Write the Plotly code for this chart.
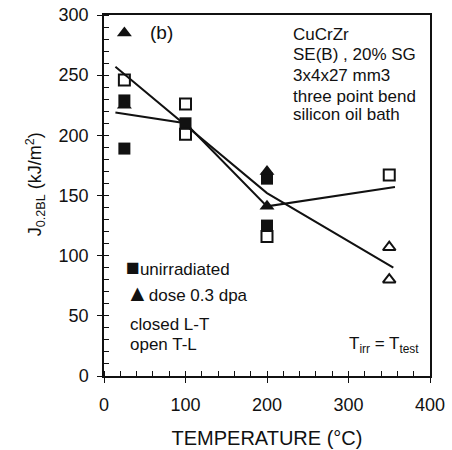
import plotly.graph_objects as go

# Test temperature (°C) and J0.2BL toughness (kJ/m²)
# Unirradiated, L-T orientation (closed squares)
unirr_lt_temp = [25, 25, 100, 200, 200]
unirr_lt_j = [229, 189, 210, 164, 125]
# Unirradiated, T-L orientation (open squares)
unirr_tl_temp = [25, 100, 100, 200, 350]
unirr_tl_j = [246, 226, 201, 116, 167]
# Irradiated 0.3 dpa, L-T orientation (closed triangles)
irr_lt_temp = [25, 25, 200, 200]
irr_lt_j = [285, 225, 170, 141]
# Irradiated 0.3 dpa, T-L orientation (open triangles)
irr_tl_temp = [350, 350]
irr_tl_j = [107, 80]

# Trend lines
trend1_temp = [14, 100, 200, 357]
trend1_j = [219, 210, 141, 157]
trend2_temp = [14, 200, 355]
trend2_j = [257, 152, 90]

x_ticks = [0, 100, 200, 300, 400]
y_ticks = [0, 50, 100, 150, 200, 250, 300]

FONT = "Liberation Sans, Arial, sans-serif"
INK = "#111111"

fig = go.Figure()

for tx, ty in [(trend1_temp, trend1_j), (trend2_temp, trend2_j)]:
    fig.add_trace(go.Scatter(x=tx, y=ty, mode="lines",
                             line=dict(color=INK, width=2), showlegend=False))

fig.add_trace(go.Scatter(x=unirr_lt_temp, y=unirr_lt_j, mode="markers",
                         marker=dict(symbol="square", size=12, color=INK),
                         showlegend=False))
fig.add_trace(go.Scatter(x=irr_lt_temp, y=irr_lt_j, mode="markers",
                         marker=dict(symbol="triangle-up", size=13, color=INK),
                         showlegend=False))
fig.add_trace(go.Scatter(x=unirr_tl_temp, y=unirr_tl_j, mode="markers",
                         marker=dict(symbol="square-open", size=11, color=INK,
                                     line=dict(width=2, color=INK)),
                         showlegend=False))
fig.add_trace(go.Scatter(x=irr_tl_temp, y=irr_tl_j, mode="markers",
                         marker=dict(symbol="triangle-up-open", size=11, color=INK,
                                     line=dict(width=2, color=INK)),
                         showlegend=False))

axis_common = dict(
    showline=True, linecolor=INK, linewidth=1.5, mirror=True,
    showgrid=False, zeroline=False, automargin=False,
    ticks="outside", ticklen=5, tickwidth=1.2, tickcolor=INK,
    tickfont=dict(family=FONT, size=18, color=INK),
)

fig.update_layout(
    width=452, height=450,
    margin=dict(l=104, r=22, t=15, b=74),
    paper_bgcolor="white", plot_bgcolor="white",
    font=dict(family=FONT, color=INK),
    xaxis=dict(range=[0, 400], tickvals=x_ticks, ticklabelstandoff=7,
               minor=dict(dtick=20, ticks="inside", ticklen=5, tickwidth=1, tickcolor=INK),
               title=dict(text="TEMPERATURE (°C)", font=dict(family=FONT, size=20, color=INK),
                          standoff=17),
               **axis_common),
    yaxis=dict(range=[0, 300], tickvals=y_ticks, ticklabelstandoff=5,
               minor=dict(dtick=10, ticks="inside", ticklen=5, tickwidth=1, tickcolor=INK),
               **axis_common),
    # inner halves of the major ticks
    xaxis2=dict(range=[0, 400], tickvals=x_ticks, overlaying="x", anchor="y", side="bottom",
                ticks="inside", ticklen=5, tickwidth=1.2, tickcolor=INK, automargin=False,
                showticklabels=False, showline=False, showgrid=False, zeroline=False),
    yaxis2=dict(range=[0, 300], tickvals=y_ticks, overlaying="y", anchor="x", side="left",
                ticks="inside", ticklen=5, tickwidth=1.2, tickcolor=INK, automargin=False,
                showticklabels=False, showline=False, showgrid=False, zeroline=False),
)

# y-axis title, placed by hand so it sits a little above the axis middle
fig.add_annotation(x=-0.21, y=0.53, xref="paper", yref="paper",
                   text="J<sub>0.2BL</sub> (kJ/m<sup>2</sup>)", textangle=-90,
                   showarrow=False, xanchor="center", yanchor="middle",
                   font=dict(family=FONT, size=18, color=INK))

GLYPH = '<span style="font-size:23px">{}</span>'
notes = [
    (71, 285.5, "(b)", "center", 19),
    (230, 283.5, "CuCrZr", "left", 17),
    (230, 266.8, "SE(B) , 20% SG", "left", 17),
    (230, 249.4, "3x4x27 mm3", "left", 17),
    (230, 231.9, "three point bend", "left", 17),
    (230, 217.0, "silicon oil bath", "left", 17),
    (24, 90.4, GLYPH.format("■") + "unirradiated", "left", 17),
    (24, 69.2, GLYPH.format("▲") + "dose 0.3 dpa", "left", 17),
    (30, 43.2, "closed L-T", "left", 17),
    (30, 25.8, "open T-L", "left", 17),
    (298, 25.8, "T<sub>irr</sub> = T<sub>test</sub>", "left", 17),
]
for x, y, text, anchor, size in notes:
    fig.add_annotation(x=x, y=y, xref="x", yref="y", text=text, showarrow=False,
                       xanchor=anchor, yanchor="middle",
                       font=dict(family=FONT, size=size, color=INK))

fig.write_html("out.html")
